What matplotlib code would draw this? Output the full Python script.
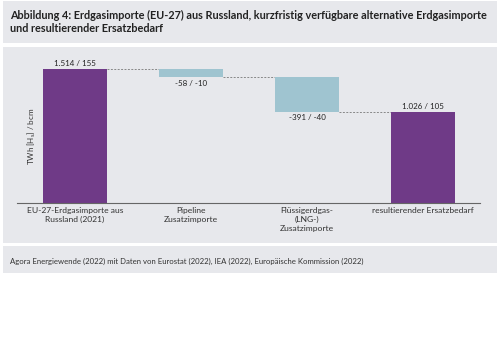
import matplotlib.pyplot as plt
from matplotlib.patches import Rectangle

plt.rcParams['font.family'] = ['Lato', 'DejaVu Sans']

# daten (bcm für die balkenhöhe, beschriftung TWh / bcm)
kategorien = ['EU-27-Erdgasimporte aus\nRussland (2021)', 'Pipeline\nZusatzimporte',
              'Flüssigerdgas-\n(LNG-)\nZusatzimporte', 'resultierender Ersatzbedarf']
bcm = [155, -10, -40, 105]
beschriftung = ['1.514 / 155', '-58 / -10', '-391 / -40', '1.026 / 105']
ist_summe = [True, False, False, True]

lila = '#6f3a87'
hellblau = '#9fc4d0'
panel = '#e7e8ec'

fig = plt.figure(figsize=(5.0, 3.53), dpi=100)
W, H = 500, 353

def box(x0, y0, x1, y1):
    # pixelkoordinaten (oben links) in figurkoordinaten umrechnen
    fig.patches.append(Rectangle((x0 / W, 1 - y1 / H), (x1 - x0) / W, (y1 - y0) / H,
                                 transform=fig.transFigure, facecolor=panel,
                                 edgecolor='none', zorder=-5))

box(3, 1, 497, 43)
box(3, 47, 497, 243)
box(3, 246, 497, 273)

fig.text(10 / W, 1 - 15 / H, 'Abbildung 4: Erdgasimporte (EU-27) aus Russland, kurzfristig verfügbare alternative Erdgasimporte',
         fontsize=7.8, fontweight='bold', va='center', ha='left', color='#222222')
fig.text(10 / W, 1 - 29 / H, 'und resultierender Ersatzbedarf',
         fontsize=7.8, fontweight='bold', va='center', ha='left', color='#222222')
fig.text(10 / W, 1 - 261 / H, 'Agora Energiewende (2022) mit Daten von Eurostat (2022), IEA (2022), Europäische Kommission (2022)',
         fontsize=5.6, va='center', ha='left', color='#333333')

ax = fig.add_axes([17 / W, 1 - 203 / H, 463 / W, 156 / H])
ax.set_facecolor('none')
ax.set_zorder(2)

# wasserfall: start und ende der balken berechnen
laufend = 0
unten, hoehe = [], []
for wert, summe in zip(bcm, ist_summe):
    if summe:
        unten.append(0)
        hoehe.append(wert)
        laufend = wert
    else:
        unten.append(laufend + wert)
        hoehe.append(-wert)
        laufend = laufend + wert

x = list(range(len(kategorien)))
farben = [lila if s else hellblau for s in ist_summe]
ax.bar(x, hoehe, bottom=unten, width=0.55, color=farben, zorder=2)

# gestrichelte verbindungslinien
for i in range(len(x) - 1):
    stufe = unten[i] if not ist_summe[i] else hoehe[i]
    ax.plot([x[i] + 0.275, x[i + 1] - 0.275], [stufe, stufe], linestyle=(0, (2, 1.5)),
            color='#888888', linewidth=0.7, zorder=1)

# werte beschriften
for i in x:
    if ist_summe[i]:
        ax.text(i, hoehe[i] + 2, beschriftung[i], ha='center', va='bottom', fontsize=5.8, color='#222222')
    else:
        ax.text(i, unten[i] - 2.5, beschriftung[i], ha='center', va='top', fontsize=5.8, color='#222222')

ax.set_xlim(-0.5, 3.49)
ax.set_ylim(0, 180)
ax.set_xticks(x)
ax.set_xticklabels(kategorien, fontsize=6.1, color='#333333', linespacing=1.3)
ax.tick_params(axis='x', length=0, pad=3)
ax.set_yticks([])
for s in ['left', 'right', 'top']:
    ax.spines[s].set_visible(False)
ax.spines['bottom'].set_color('#666666')
ax.spines['bottom'].set_linewidth(0.8)
ax.set_ylabel('TWh [H$_\\mathregular{s}$] / bcm', fontsize=5.8, color='#333333')
ax.yaxis.set_label_coords(21 / 463, 0.43)

fig.savefig('out.png', dpi=100)
